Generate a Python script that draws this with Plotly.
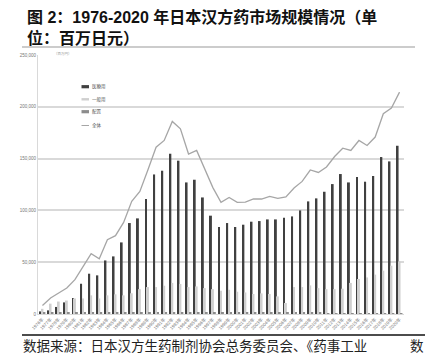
import plotly.graph_objects as go

years = [str(y) for y in range(1976, 2021)]
tick_labels = [f"{y}年" for y in range(1976, 2021)]

# 医療用 (prescription Kampo), million yen
iryo = [2500, 3500, 6800, 11200, 15400, 29200, 38900, 37300, 51700, 55600,
        69100, 87800, 92300, 111000, 134700, 138300, 154700, 148000, 127000, 129600,
        112500, 94900, 84000, 87800, 84000, 86200, 89100, 89700, 91300, 91300,
        92900, 94200, 100000, 108700, 111600, 118000, 125400, 135100, 127000, 132200,
        127700, 133200, 151500, 147300, 162400]

# 一般用 (OTC Kampo)
ippan = [5000, 10000, 12000, 13000, 15000, 15000, 18000, 15000, 18000, 19000,
         18000, 20000, 24000, 26000, 26000, 27300, 30000, 29000, 26000, 26600,
         25000, 24000, 22500, 23400, 21500, 20800, 19300, 19900, 19300, 17000,
         10600, 26000, 26000, 27600, 25000, 24000, 24000, 24400, 30000, 33800,
         35300, 38000, 41800, 46600, 50800]

# 配置 (household distribution)
haichi = [1200, 1500, 1600, 1700, 1800, 1800, 1900, 1800, 1900, 1900,
          1900, 1900, 1900, 1900, 1900, 1800, 1800, 1700, 1700, 1600,
          1600, 1500, 1500, 1400, 1400, 1300, 1300, 1200, 1200, 1200,
          1100, 1100, 1000, 1000, 1000, 900, 900, 900, 900, 800,
          800, 800, 800, 700, 700]

# 全体 (total)
zentai = [8300, 15400, 20300, 25100, 33100, 45300, 58200, 53400, 71700, 75600,
          88400, 108700, 118300, 139300, 161000, 167500, 185900, 178800, 154400, 157900,
          140000, 122000, 107700, 112500, 107700, 108000, 111000, 111000, 113600, 111600,
          113000, 121600, 128000, 139000, 136600, 141900, 152000, 160000, 157900, 167500,
          162700, 170800, 193300, 198800, 214200]

y_ticks = [0, 50000, 100000, 150000, 200000, 250000]

series_names = ["医療用", "一般用", "配置", "全体"]
series_colors = ["#404040", "#cfcfcf", "#8c8c8c", "#a6a6a6"]

fig = go.Figure()
fig.add_trace(go.Bar(x=years, y=iryo, name=series_names[0], marker_color=series_colors[0], marker_line_width=0))
fig.add_trace(go.Bar(x=years, y=ippan, name=series_names[1], marker_color=series_colors[1], marker_line_width=0))
fig.add_trace(go.Bar(x=years, y=haichi, name=series_names[2], marker_color=series_colors[2], marker_line_width=0))
fig.add_trace(go.Scatter(x=years, y=zentai, name=series_names[3], mode="lines",
                         line=dict(color=series_colors[3], width=1.3)))

L, R, T, B = 38, 21, 55, 41
W, H = 425, 355
pw, ph = W - L - R, H - T - B
def px(x):
    return (x - L) / pw
def py(y):
    return (H - B - y) / ph

shapes = [
    dict(type="line", xref="paper", yref="paper", x0=px(22), x1=px(415), y0=py(47), y1=py(47),
         line=dict(color="#999", width=1)),
    dict(type="line", xref="paper", yref="paper", x0=px(22), x1=px(425), y0=py(335), y1=py(335),
         line=dict(color="#111", width=1.5)),
]
title_font = dict(size=16, color="#111", family="Liberation Sans, Noto Sans CJK SC")
src_font = dict(size=13.5, color="#222", family="Noto Sans CJK SC")
annotations = [
    dict(xref="paper", yref="paper", x=px(25), y=py(17), xanchor="left", yanchor="middle",
         showarrow=False, text="<b>图 2：1976-2020 年日本汉方药市场规模情况（单</b>", font=title_font),
    dict(xref="paper", yref="paper", x=px(25), y=py(38), xanchor="left", yanchor="middle",
         showarrow=False, text="<b>位：百万日元）</b>", font=title_font),
    dict(xref="paper", yref="paper", x=px(52), y=py(53), xanchor="left", yanchor="middle",
         showarrow=False, text="（百万円）", font=dict(size=3.5, color="#999")),
    dict(xref="paper", yref="paper", x=px(21), y=py(345), xanchor="left", yanchor="middle",
         showarrow=False, text="数据来源：日本汉方生药制剂协会总务委员会、《药事工业", font=src_font),
    dict(xref="paper", yref="paper", x=px(409), y=py(345), xanchor="left", yanchor="middle",
         showarrow=False, text="数", font=src_font, borderpad=0),
]

# compact legend drawn by hand (symbols + labels)
leg_y = [86.7, 99.3, 111.7, 125.5]
for i, (nm, col) in enumerate(zip(series_names, series_colors)):
    yy = leg_y[i]
    if i < 3:
        hh = 1.6 if i != 1 else 1.2
        shapes.append(dict(type="rect", xref="paper", yref="paper",
                           x0=px(81.5), x1=px(89), y0=py(yy + hh), y1=py(yy - hh),
                           fillcolor=col, line=dict(width=0)))
    else:
        shapes.append(dict(type="line", xref="paper", yref="paper",
                           x0=px(81.5), x1=px(89), y0=py(yy), y1=py(yy),
                           line=dict(color=col, width=1)))
    annotations.append(dict(xref="paper", yref="paper", x=px(89.8), y=py(yy),
                            xanchor="left", yanchor="middle", showarrow=False, text=nm,
                            font=dict(size=4.5, color="#555")))

fig.update_layout(
    template="none",
    width=W, height=H,
    margin=dict(l=L, r=R, t=T, b=B, pad=0),
    paper_bgcolor="white", plot_bgcolor="white",
    barmode="group", bargap=0.28, bargroupgap=0,
    font=dict(family="Liberation Sans, Noto Sans CJK SC", color="#666"),
    showlegend=False,
    xaxis=dict(type="category", range=[-0.55, 44.55], tickvals=years, ticktext=tick_labels,
               tickangle=-45, tickfont=dict(size=4.5, color="#777"), automargin=False,
               showline=True, linecolor="#d9d9d9", linewidth=1, ticks="", showgrid=False,
               zeroline=False),
    yaxis=dict(range=[0, 250000], tickvals=y_ticks, tickformat=",", automargin=False,
               tickfont=dict(size=4.5, color="#777"),
               showgrid=True, gridcolor="#d9d9d9", gridwidth=1.5,
               showline=True, linecolor="#d9d9d9", linewidth=1, zeroline=False, ticks=""),
    shapes=shapes,
    annotations=annotations,
)

fig.write_html("out.html", config={"displayModeBar": False},
               post_script="document.body.style.margin='0';document.body.style.overflow='hidden';")
